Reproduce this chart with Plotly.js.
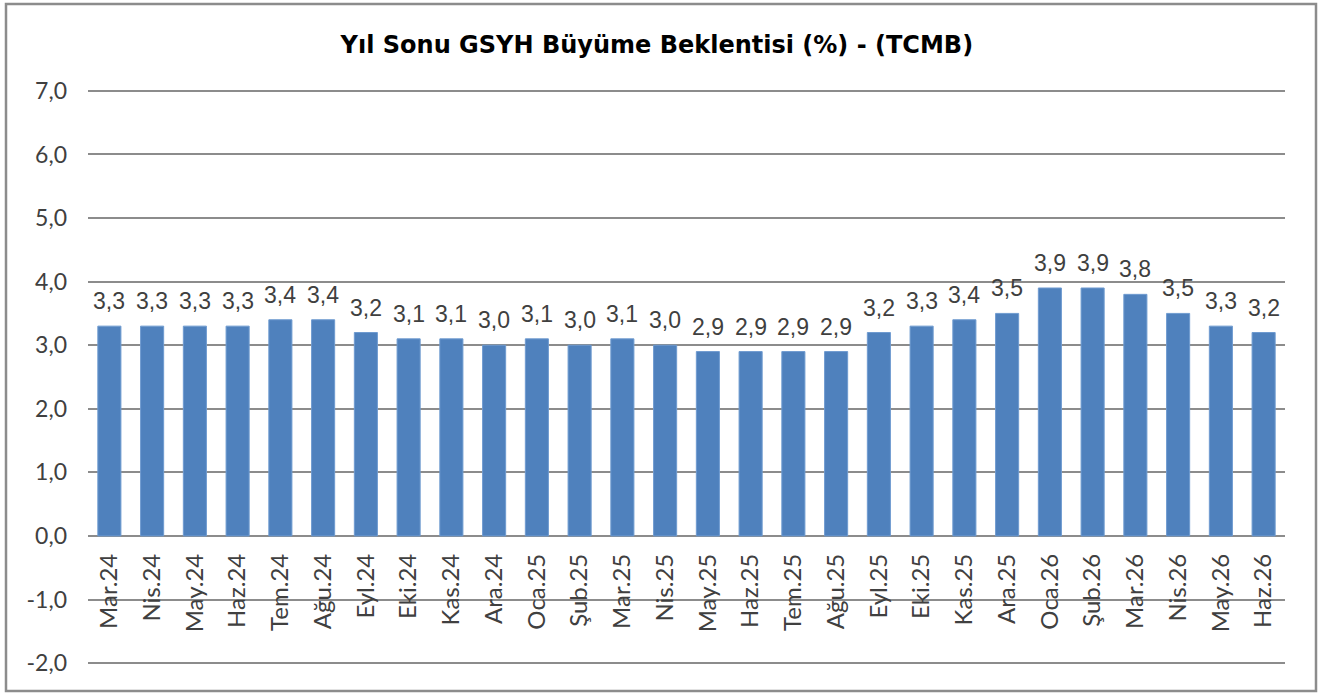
<!DOCTYPE html>
<html>
<head>
<meta charset="utf-8">
<script src="https://cdn.plot.ly/plotly-3.0.1.min.js"></script>
<style>html,body{margin:0;padding:0;background:#fff;}#chart{width:1319px;height:694px;}</style>
</head>
<body>
<div id="chart"></div>
<script>
const categories = ["Mar.24","Nis.24","May.24","Haz.24","Tem.24","Ağu.24","Eyl.24","Eki.24","Kas.24","Ara.24","Oca.25","Şub.25","Mar.25","Nis.25","May.25","Haz.25","Tem.25","Ağu.25","Eyl.25","Eki.25","Kas.25","Ara.25","Oca.26","Şub.26","Mar.26","Nis.26","May.26","Haz.26"];
const values = [3.3,3.3,3.3,3.3,3.4,3.4,3.2,3.1,3.1,3.0,3.1,3.0,3.1,3.0,2.9,2.9,2.9,2.9,3.2,3.3,3.4,3.5,3.9,3.9,3.8,3.5,3.3,3.2];
const yTicks = [-2,-1,0,1,2,3,4,5,6,7];
const yTickLabels = ["-2,0","-1,0","0,0","1,0","2,0","3,0","4,0","5,0","6,0","7,0"];
const chartTitle = "Yıl Sonu GSYH Büyüme Beklentisi (%) - (TCMB)";

const labels = values.map(v => v.toFixed(1).replace('.', ','));

const trace = {
  type: 'bar',
  x: categories,
  y: values,
  marker: {color: '#4F81BD', line: {color: '#6F9BD0', width: 1}},
  hoverinfo: 'x+y'
};

const annotations = categories.map((c, i) => ({
  x: c, y: values[i], xref: 'x', yref: 'y',
  text: labels[i], showarrow: false,
  xanchor: 'center', yanchor: 'bottom', yshift: 10,
  font: {family: 'Liberation Sans, Arial, sans-serif', size: 23, color: '#404040'}
}));

const pad = 0.03;
const layout = {
  width: 1319, height: 694,
  margin: {l: 88, r: 34, t: 89, b: 29},
  paper_bgcolor: '#fff', plot_bgcolor: '#fff',
  showlegend: false,
  bargap: 0.46,
  title: {text: '<b>' + chartTitle + '</b>', x: 0.498, xref: 'container', xanchor: 'center',
          y: 1 - 45/694, yref: 'container', yanchor: 'middle',
          font: {family: 'DejaVu Sans, sans-serif', size: 24, color: '#000'}},
  xaxis: {
    type: 'category', anchor: 'free', position: (2 + pad)/(9 + 2*pad),
    tickangle: -90, showgrid: false, showline: false, zeroline: false, ticks: '',
    tickfont: {family: 'Lato, Noto Sans, sans-serif', size: 24, color: '#404040'},
    ticklabelstandoff: 12
  },
  yaxis: {
    range: [-2 - pad, 7 + pad], tickvals: yTicks, ticktext: yTickLabels,
    showgrid: true, gridcolor: '#8c8c8c', gridwidth: 2,
    zeroline: true, zerolinecolor: '#8c8c8c', zerolinewidth: 2,
    showline: false, ticks: '',
    tickfont: {family: 'Lato, Noto Sans, sans-serif', size: 23, color: '#404040'},
    ticklabelstandoff: 20, domain: [0, 1]
  },
  annotations: annotations,
  shapes: [{type: 'rect', xref: 'paper', yref: 'paper',
            x0: -82/1197, x1: 1228/1197, y0: -26/576, y1: 1 + 85/576,
            line: {color: '#8c8c8c', width: 2.5}, fillcolor: 'rgba(0,0,0,0)', layer: 'below'}]
};

Plotly.newPlot('chart', [trace], layout, {displayModeBar: false, staticPlot: true});
</script>
</body>
</html>
